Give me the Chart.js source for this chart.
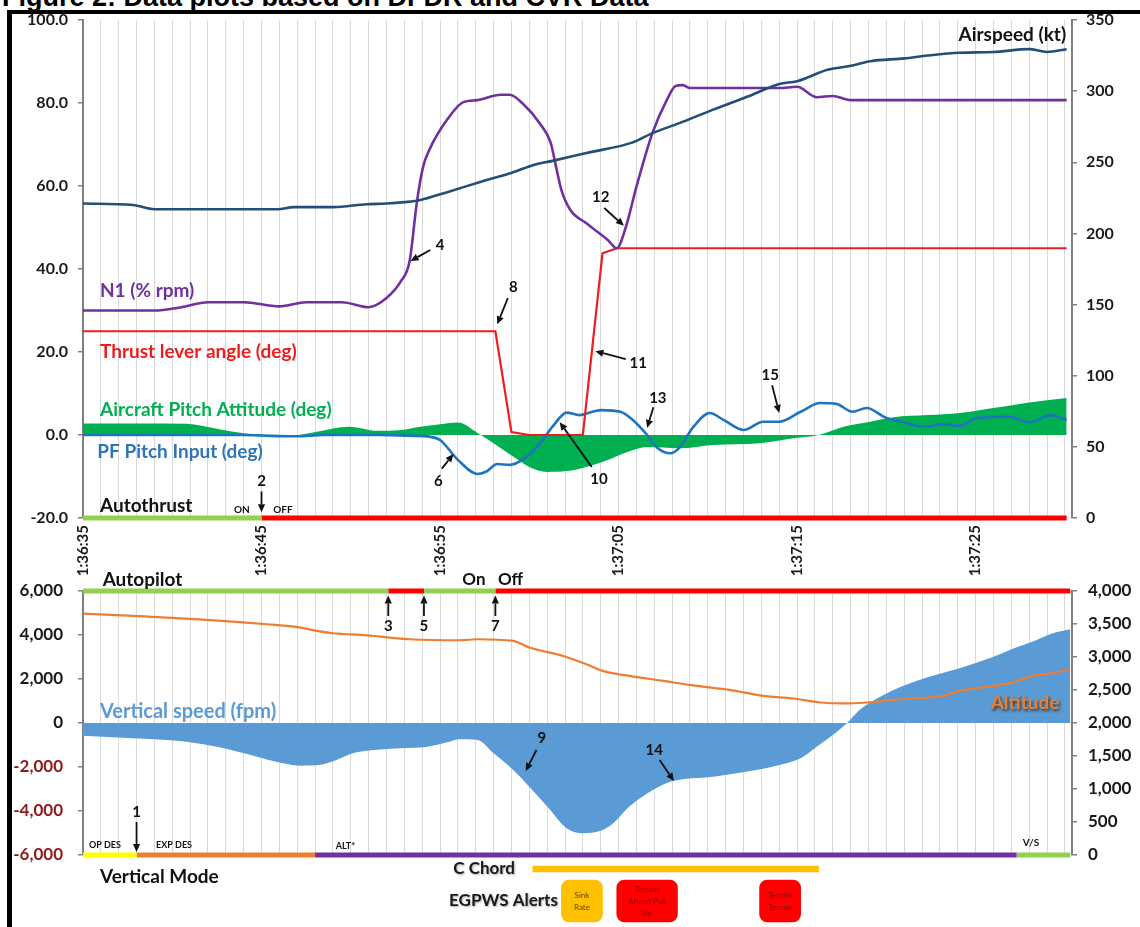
<!DOCTYPE html>
<html>
<head>
<meta charset="utf-8">
<script src="https://cdn.jsdelivr.net/npm/chart.js@4.4.1/dist/chart.umd.min.js"></script>
<style>
  html, body { margin: 0; padding: 0; background: #fff; overflow: hidden; width: 1140px; height: 927px; }
  #stage { position: relative; width: 1140px; height: 927px; overflow: hidden; }
  canvas { position: absolute; left: 0; }
  #title { position: absolute; left: 2px; top: -16px; font: bold 27px/27px "Liberation Sans", Arial, sans-serif; color: #000; white-space: nowrap; }
  #frame { position: absolute; left: 7px; top: 10px; width: 1300px; height: 1000px; border-left: 5px solid #000; border-top: 4px solid #000; }
</style>
</head>
<body>
<div id="stage">
  <div id="title">Figure 2: Data plots based on DFDR and CVR Data</div>
  <div id="frame"></div>
  <canvas id="topChart" width="1140" height="590" style="top:0"></canvas>
  <canvas id="bottomChart" width="1140" height="367" style="top:560px"></canvas>
  <canvas id="alertChart" width="1140" height="74" style="top:853px"></canvas>
</div>
<script>
// ---- time axis (seconds after 1:36:35) ----
const timeLabels = ['1:36:35', '1:36:45', '1:36:55', '1:37:05', '1:37:15', '1:37:25'];
const labelEvery = 10;
const timeMax = 55.4;

// ---- airspeed (kt) ----
const airspeedTime = [0, 2.8, 4, 6, 8, 10.9, 11.8, 14, 15.9, 17, 18, 18.9, 20.4, 22.2, 24.1, 25.2, 26.3, 28.2, 30.8, 31.9, 33.4, 35.3, 37.2, 39, 40, 41.7, 43.1, 44.1, 46, 47.3, 49.1, 51, 53, 54, 55.1];
const airspeedKt   = [221, 220, 217, 217, 217, 217, 218.5, 218.5, 220.5, 221, 222, 223.5, 229, 236, 243, 248, 251, 256.5, 264, 270.5, 277.5, 287, 296, 305, 307, 315, 318, 321, 323, 325, 327, 327.5, 329.5, 327.5, 329.5];

// ---- N1 (% rpm) ----
const n1Time = [0, 4, 5.5, 7, 9, 11, 12.5, 14.5, 16, 17, 17.8, 18.3, 18.7, 19.05, 19.4, 20.4, 21.3, 22.1, 23.4, 23.9, 24.6, 25.6, 26.2, 26.5, 26.8, 27.3, 28.2, 29.4, 29.9, 30.4, 31, 31.9, 32.7, 33.2, 33.6, 34, 37, 39, 40, 41.1, 42, 43, 55.1];
const n1Pct  = [30, 30, 30.8, 32, 32, 31, 32, 32, 30.8, 33, 37, 42, 56, 64.6, 68.7, 76, 80.2, 80.7, 82, 82, 80, 75, 70.4, 64.6, 59, 54.2, 51, 47, 45, 50, 59.8, 72.8, 80.7, 84.1, 84.3, 83.6, 83.6, 83.6, 83.9, 81.4, 81.7, 80.7, 80.7];

// ---- thrust lever angle (deg) ----
const tlaTime = [0, 23.1, 24.0, 25.0, 28.0, 29.1, 29.9, 55.1];
const tlaDeg  = [25, 25, 0.7, 0, 0, 43.8, 45, 45];

// ---- aircraft pitch attitude (deg) ----
const pitchTime = [0, 3, 5.8, 7.5, 9, 10.5, 11.6, 13.1, 14.9, 16.5, 17.8, 18.9, 20, 21, 22.1, 23, 24.1, 25, 26, 27.1, 28.2, 29.4, 30.5, 31.6, 33.4, 35.3, 37.9, 39.8, 41.2, 42.6, 44.1, 45.4, 47.3, 49.1, 51, 52.9, 55.1];
const pitchDeg  = [2.8, 2.8, 2.7, 1.5, 0.4, 0, -0.2, 0.8, 2.0, 1.0, 1.2, 2.0, 2.6, 3.0, 0.5, -2.0, -5.2, -7.7, -8.9, -8.7, -7.7, -6.0, -4.1, -2.9, -3.2, -2.4, -2.0, -0.8, 0, 2.0, 3.2, 4.3, 4.8, 5.3, 6.5, 7.8, 8.9];

// ---- PF pitch input (deg) ----
const pfTime = [0, 9, 10.5, 12, 13.5, 16.6, 18.5, 19.4, 20, 21, 22.1, 22.6, 23.2, 23.9, 24.6, 25.6, 26.3, 27.1, 27.8, 29.0, 30.1, 30.8, 31.6, 32.2, 32.9, 33.4, 34.2, 35.1, 35.9, 37, 38.1, 39, 40.2, 41.3, 42.2, 43.1, 43.9, 45, 45.9, 47.1, 48.2, 49.1, 50.1, 51.9, 53, 54.2, 55.1];
const pfDeg  = [0, 0, -0.2, -0.3, 0, 0, -0.2, -0.4, -1.2, -6.0, -9.4, -8.8, -7.0, -7.2, -6.0, -2.0, 2.0, 5.4, 4.8, 6.0, 5.6, 3.6, 0, -3.2, -4.4, -3.1, 2.0, 5.3, 3.6, 1.2, 3.2, 3.2, 5.6, 7.7, 7.5, 5.6, 6.5, 4.1, 3.2, 2.0, 2.6, 2.2, 4.1, 4.4, 3.0, 4.8, 3.6];

// ---- autothrust state ----
const atState = ['on', 'off'];
const atStart = [0, 10];
const atEnd   = [10, 55.1];

// ---- vertical speed (fpm) ----
const vsTime = [0, 2.8, 4.7, 5.8, 7.5, 9.4, 11.2, 12.2, 13.3, 14.2, 15.1, 16.3, 17.8, 19.3, 20.4, 21.1, 22.1, 23.0, 24.1, 25.0, 26.0, 27.1, 28.0, 29.0, 29.7, 30.6, 31.6, 32.9, 35.3, 37.2, 39.0, 40.2, 41.1, 42.0, 42.8, 43.5, 44.5, 45.4, 46.3, 47.3, 49.1, 51.0, 52.3, 53.2, 54.2, 55.3];
const vsFpm  = [-580, -690, -770, -850, -1075, -1450, -1830, -1940, -1900, -1680, -1380, -1230, -1150, -1080, -880, -740, -770, -1380, -2140, -2900, -3800, -4790, -5010, -4900, -4560, -3800, -3200, -2670, -2440, -2210, -1910, -1600, -1080, -545, 0, 590, 1120, 1500, 1800, 2080, 2490, 3010, 3440, 3700, 4050, 4260];

// ---- altitude (ft) ----
const altTime = [0, 2.8, 6.5, 10.3, 12.2, 13.1, 14, 15.9, 16.6, 18.3, 21.1, 22.1, 24.1, 25.0, 26.9, 28.2, 29.1, 30.6, 32.5, 34.4, 36.2, 38.1, 39.8, 41.3, 42.6, 43.9, 45.4, 47.3, 48.2, 49.1, 51.0, 52.1, 53.2, 54.2, 55.3];
const altFt   = [3658, 3622, 3571, 3496, 3446, 3395, 3360, 3329, 3310, 3269, 3254, 3269, 3243, 3143, 3016, 2890, 2789, 2713, 2638, 2562, 2502, 2411, 2371, 2311, 2296, 2311, 2350, 2386, 2411, 2487, 2562, 2613, 2713, 2749, 2815];

// ---- autopilot state ----
const apState = ['on', 'off', 'on', 'off'];
const apStart = [0, 17.1, 19.1, 23.1];
const apEnd   = [17.1, 19.1, 23.1, 55.3];

// ---- vertical mode ----
const modeNames = ['OP DES', 'EXP DES', 'ALT*', 'V/S'];
const modeStart = [0, 3, 13, 52.3];
const modeEnd   = [3, 13, 52.3, 55.3];

// ---- C chord and EGPWS alerts ----
const cChordStart = 25.2;
const cChordEnd   = 41.2;
const alertNames = ['Sink\nRate', 'Terrain\nAhead Pull\nUp', 'Terrain\nTerrain'];
const alertKind  = ['caution', 'warning', 'warning'];
const alertStart = [26.8, 29.9, 37.9];
const alertEnd   = [29.1, 33.3, 40.2];

// ---- styling ----
const stateColor = { on: '#92d050', off: '#ff0000' };
const modeColor = { 'OP DES': '#ffff00', 'EXP DES': '#ed7d31', 'ALT*': '#7030a0', 'V/S': '#92d050' };
const alertFill = { caution: '#ffc000', warning: '#ff0000' };
const alertInk = { caution: '#6b4300', warning: '#9a0000' };
const FONT = 'Lato, "Open Sans", sans-serif';
const AXIS_GREY = '#7f7f7f';

Chart.defaults.font.family = FONT;
Chart.defaults.color = '#1a1a1a';

const pts = (ts, vs) => ts.map((t, i) => ({ x: t, y: vs[i] }));

function stateBars(starts, ends, keys, level, palette) {
  return starts.map((s, i) => ({
    type: 'line',
    data: [{ x: s, y: level }, { x: ends[i], y: level }],
    borderColor: palette[keys[i]],
    borderWidth: 5,
    borderCapStyle: 'butt',
    pointRadius: 0,
    clip: false,
    order: 0
  }));
}

function timeTick(v) {
  const k = Math.round(v);
  if (Math.abs(v - k) > 1e-6 || k % labelEvery !== 0) return '';
  return timeLabels[k / labelEvery] || '';
}

function drawArrow(ctx, x1, y1, x2, y2) {
  const a = Math.atan2(y2 - y1, x2 - x1);
  const head = 8, half = 3.6;
  const bx = x2 - head * Math.cos(a), by = y2 - head * Math.sin(a);
  ctx.beginPath();
  ctx.moveTo(x1, y1);
  ctx.lineTo(bx, by);
  ctx.stroke();
  ctx.beginPath();
  ctx.moveTo(x2, y2);
  ctx.lineTo(bx + half * Math.sin(a), by - half * Math.cos(a));
  ctx.lineTo(bx - half * Math.sin(a), by + half * Math.cos(a));
  ctx.closePath();
  ctx.fill();
}

// text labels and numbered callouts placed in data coordinates (left axis)
function notesPlugin(id, notes, callouts) {
  return {
    id,
    afterDatasetsDraw(chart) {
      const { ctx } = chart;
      const xs = chart.scales.x, ys = chart.scales.y;
      ctx.save();
      ctx.textBaseline = 'middle';
      for (const n of notes) {
        ctx.font = `bold ${n.size}px ${FONT}`;
        ctx.fillStyle = n.color || '#111';
        ctx.textAlign = n.align || 'center';
        if (n.shadow) {
          ctx.shadowColor = 'rgba(40,20,0,0.75)';
          ctx.shadowBlur = 3;
          ctx.shadowOffsetX = 1.5;
          ctx.shadowOffsetY = 1.5;
        }
        ctx.fillText(n.text, xs.getPixelForValue(n.t), ys.getPixelForValue(n.v));
        ctx.shadowColor = 'transparent';
        ctx.shadowBlur = 0; ctx.shadowOffsetX = 0; ctx.shadowOffsetY = 0;
      }
      ctx.strokeStyle = '#111';
      ctx.fillStyle = '#111';
      ctx.lineWidth = 1.8;
      for (const c of callouts) {
        ctx.font = `bold 15px ${FONT}`;
        ctx.textAlign = 'center';
        ctx.fillText(c.text, xs.getPixelForValue(c.at[0]), ys.getPixelForValue(c.at[1]));
        drawArrow(ctx,
          xs.getPixelForValue(c.from[0]), ys.getPixelForValue(c.from[1]),
          xs.getPixelForValue(c.to[0]), ys.getPixelForValue(c.to[1]));
      }
      ctx.restore();
    }
  };
}

const yAxisCommon = (side, width, pad) => ({
  position: side,
  afterFit: s => { s.width = width; },
  grid: { drawOnChartArea: false, drawTicks: true, tickLength: 5, color: AXIS_GREY, lineWidth: 1.5 },
  border: { display: true, color: AXIS_GREY, width: 2 },
  ticks: { padding: pad, font: { size: 16, weight: 'bold' }, color: '#1a1a1a' }
});

const xAxisCommon = (showLabels) => ({
  type: 'linear',
  min: 0,
  max: timeMax,
  afterFit: s => { s.height = 72; },
  border: { display: false },
  grid: { color: '#dadada', lineWidth: 1, drawTicks: false },
  ticks: {
    display: showLabels,
    stepSize: 1,
    autoSkip: false,
    includeBounds: false,
    maxRotation: 90,
    minRotation: 90,
    padding: 7,
    font: { size: 15, weight: 'bold' },
    color: '#1a1a1a',
    callback: timeTick
  }
});

// ================= upper panel =================
const topNotes = [
  { text: 'N1 (% rpm)', t: 0.95, v: 34.7, color: '#7030a0', size: 19, align: 'left' },
  { text: 'Thrust lever angle (deg)', t: 0.95, v: 20.0, color: '#ee1c1c', size: 19, align: 'left' },
  { text: 'Aircraft Pitch Attitude (deg)', t: 0.95, v: 6.0, color: '#00b050', size: 19, align: 'left' },
  { text: 'PF Pitch Input (deg)', t: 0.8, v: -4.1, color: '#2e75b6', size: 19, align: 'left' },
  { text: 'Autothrust', t: 0.95, v: -17.1, color: '#111', size: 19, align: 'left' },
  { text: 'ON', t: 8.9, v: -17.9, color: '#111', size: 10 },
  { text: 'OFF', t: 11.2, v: -17.9, color: '#111', size: 10 },
  { text: 'Airspeed (kt)', t: 55.07, v: 96.4, color: '#111', size: 19, align: 'right' }
];
const topCallouts = [
  { text: '2',  at: [10.0, -11.1], from: [10.0, -13.6], to: [10.0, -18.6] },
  { text: '4',  at: [20.0, 45.8],  from: [19.45, 44.6], to: [18.35, 41.9] },
  { text: '8',  at: [24.1, 35.7],  from: [23.8, 33.0],  to: [23.2, 26.7] },
  { text: '6',  at: [19.9, -11.1], from: [20.1, -8.1],  to: [20.75, -4.6] },
  { text: '11', at: [31.1, 17.3],  from: [30.4, 18.3],  to: [28.7, 20.2] },
  { text: '12', at: [29.0, 57.3],  from: [29.2, 54.7],  to: [30.3, 50.4] },
  { text: '13', at: [32.2, 8.9],   from: [31.95, 6.7],  to: [31.6, 1.7] },
  { text: '10', at: [28.9, -10.6], from: [28.5, -7.7],  to: [26.7, 3.1] },
  { text: '15', at: [38.5, 14.5],  from: [38.6, 12.0],  to: [39.0, 5.3] }
];

new Chart(document.getElementById('topChart'), {
  type: 'line',
  data: {
    datasets: [
      ...stateBars(atStart, atEnd, atState, -20, stateColor),
      { data: pts(airspeedTime, airspeedKt), yAxisID: 'y1', borderColor: '#234e78', borderWidth: 2.6, pointRadius: 0, cubicInterpolationMode: 'monotone', order: 1 },
      { data: pts(n1Time, n1Pct), borderColor: '#7030a0', borderWidth: 2.6, pointRadius: 0, cubicInterpolationMode: 'monotone', order: 2 },
      { data: pts(tlaTime, tlaDeg), borderColor: '#ee1c1c', borderWidth: 2.2, pointRadius: 0, tension: 0, order: 3 },
      { data: pts(pfTime, pfDeg), borderColor: '#1f74bf', borderWidth: 2.6, pointRadius: 0, cubicInterpolationMode: 'monotone', order: 4 },
      { data: pts(pitchTime, pitchDeg), borderColor: '#00b050', borderWidth: 0, backgroundColor: '#00b050', fill: 'origin', pointRadius: 0, cubicInterpolationMode: 'monotone', order: 5 }
    ]
  },
  options: {
    responsive: false,
    animation: false,
    devicePixelRatio: 1,
    layout: { padding: { top: 20, left: 0, right: 0, bottom: 0 } },
    plugins: { legend: { display: false }, tooltip: { enabled: false } },
    scales: {
      x: xAxisCommon(true),
      y: Object.assign(yAxisCommon('left', 83, 10), {
        min: -20, max: 100,
        ticks: { padding: 10, stepSize: 20, font: { size: 16, weight: 'bold' }, color: '#1a1a1a', callback: v => v.toFixed(1) }
      }),
      y1: Object.assign(yAxisCommon('right', 68, 9), {
        min: 0, max: 350,
        ticks: { padding: 9, stepSize: 50, font: { size: 16, weight: 'bold' }, color: '#1a1a1a' }
      })
    }
  },
  plugins: [notesPlugin('topNotes', topNotes, topCallouts)]
});

// ================= lower panel =================
const bottomNotes = [
  { text: 'Autopilot', t: 1.1, v: 6500, color: '#111', size: 19, align: 'left' },
  { text: 'On', t: 21.9, v: 6500, color: '#111', size: 17 },
  { text: 'Off', t: 23.95, v: 6500, color: '#111', size: 17 },
  { text: 'Vertical speed (fpm)', t: 0.95, v: 500, color: '#5b9bd5', size: 20, align: 'left' },
  { text: 'Altitude', t: 54.7, v: 909, color: '#ed7d31', size: 19, align: 'right', shadow: true },
  { text: 'OP DES', t: 1.23, v: -5545, color: '#111', size: 9 },
  { text: 'EXP DES', t: 5.1, v: -5545, color: '#111', size: 9 },
  { text: 'ALT*', t: 14.7, v: -5590, color: '#111', size: 9 },
  { text: 'V/S', t: 53.1, v: -5450, color: '#111', size: 10 },
  { text: 'Vertical Mode', t: 0.95, v: -7000, color: '#111', size: 19, align: 'left' }
];
const bottomCallouts = [
  { text: '1',  at: [3.0, -4045],  from: [3.0, -4500],  to: [3.0, -5860] },
  { text: '3',  at: [17.1, 4409],  from: [17.1, 4864],  to: [17.1, 5790] },
  { text: '5',  at: [19.1, 4409],  from: [19.1, 4864],  to: [19.1, 5790] },
  { text: '7',  at: [23.1, 4409],  from: [23.1, 4864],  to: [23.1, 5790] },
  { text: '9',  at: [25.7, -682],  from: [25.4, -1227], to: [24.8, -2182] },
  { text: '14', at: [32.0, -1227], from: [32.3, -1682], to: [33.1, -2636] }
];

new Chart(document.getElementById('bottomChart'), {
  type: 'line',
  data: {
    datasets: [
      ...stateBars(apStart, apEnd, apState, 6000, stateColor),
      ...stateBars(modeStart, modeEnd, modeNames, -6000, modeColor),
      { data: pts(altTime, altFt), yAxisID: 'y1', borderColor: '#ed7d31', borderWidth: 2.2, pointRadius: 0, cubicInterpolationMode: 'monotone', order: 1 },
      { data: pts(vsTime, vsFpm), borderWidth: 0, backgroundColor: '#5b9bd5', fill: 'origin', pointRadius: 0, cubicInterpolationMode: 'monotone', order: 2 }
    ]
  },
  options: {
    responsive: false,
    animation: false,
    devicePixelRatio: 1,
    layout: { padding: { top: 31, left: 0, right: 0, bottom: 0 } },
    plugins: { legend: { display: false }, tooltip: { enabled: false } },
    scales: {
      x: xAxisCommon(false),
      y: Object.assign(yAxisCommon('left', 83, 15), {
        min: -6000, max: 6000,
        ticks: {
          padding: 15, stepSize: 2000, font: { size: 17, weight: 'bold' },
          color: c => (c.tick && c.tick.value < 0 ? '#8b1a1a' : '#1a1a1a'),
          callback: v => v.toLocaleString('en-US')
        }
      }),
      y1: Object.assign(yAxisCommon('right', 68, 11), {
        min: 0, max: 4000,
        ticks: { padding: 11, stepSize: 500, font: { size: 17, weight: 'bold' }, color: '#1a1a1a', callback: v => v.toLocaleString('en-US') }
      })
    }
  },
  plugins: [notesPlugin('bottomNotes', bottomNotes, bottomCallouts)]
});

// ================= C chord / EGPWS strip =================
const rowLabels = ['C Chord', 'EGPWS Alerts'];
const rowLabelEnd = [24.2, 26.6];

const stripText = {
  id: 'stripText',
  afterDatasetsDraw(chart) {
    const { ctx } = chart;
    const xs = chart.scales.x, ys = chart.scales.y;
    ctx.save();
    ctx.textBaseline = 'middle';
    ctx.textAlign = 'right';
    ctx.font = `bold 17px ${FONT}`;
    ctx.fillStyle = '#1a1a1a';
    ctx.shadowColor = 'rgba(0,0,0,0.35)';
    ctx.shadowBlur = 2;
    ctx.shadowOffsetX = 1;
    ctx.shadowOffsetY = 1;
    rowLabels.forEach((r, i) => ctx.fillText(r, xs.getPixelForValue(rowLabelEnd[i]), ys.getPixelForValue(i)));
    ctx.shadowColor = 'transparent';
    ctx.textAlign = 'center';
    ctx.font = `8px ${FONT}`;
    alertNames.forEach((name, i) => {
      const el = chart.getDatasetMeta(i + 1).data[0];
      const cx = (el.x + el.base) / 2;
      const lines = name.split('\n');
      const lh = 12;
      ctx.fillStyle = alertInk[alertKind[i]];
      lines.forEach((ln, j) => ctx.fillText(ln, cx, el.y + (j - (lines.length - 1) / 2) * lh));
    });
    ctx.restore();
  }
};

new Chart(document.getElementById('alertChart'), {
  type: 'bar',
  data: {
    labels: rowLabels,
    datasets: [
      { data: [{ x: [cChordStart, cChordEnd], y: 'C Chord' }], backgroundColor: '#ffc000', barThickness: 6, grouped: false, borderSkipped: false, clip: false },
      ...alertNames.map((n, i) => ({
        data: [{ x: [alertStart[i], alertEnd[i]], y: 'EGPWS Alerts' }],
        backgroundColor: alertFill[alertKind[i]],
        barThickness: 42,
        borderRadius: 8,
        borderSkipped: false,
        grouped: false,
        clip: false
      }))
    ]
  },
  options: {
    indexAxis: 'y',
    responsive: false,
    animation: false,
    devicePixelRatio: 1,
    layout: { padding: { top: 0, left: 83, right: 68, bottom: 10 } },
    plugins: { legend: { display: false }, tooltip: { enabled: false } },
    scales: {
      x: { type: 'linear', min: 0, max: timeMax, display: false },
      y: { type: 'category', display: false, offset: true }
    }
  },
  plugins: [stripText]
});
</script>
</body>
</html>
